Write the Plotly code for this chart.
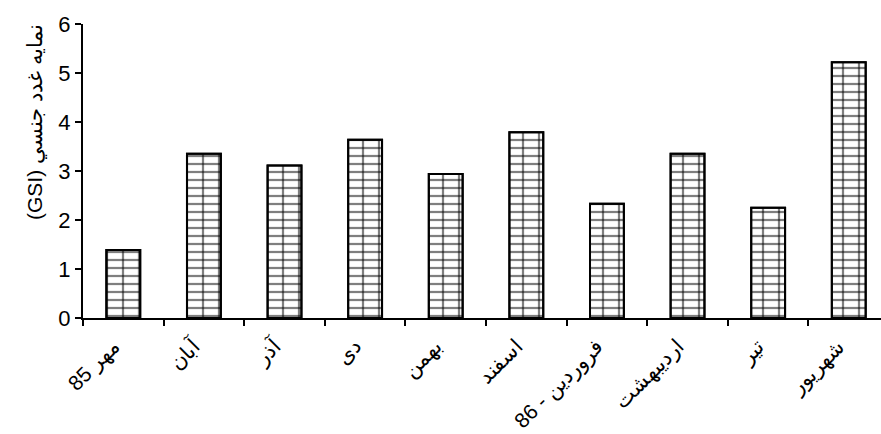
import plotly.graph_objects as go

# Monthly gonadosomatic index (GSI)
months = ["85 مهر", "آبان", "آذر", "دی", "بهمن", "اسفند",
          "86 - فروردین", "اردیبهشت", "تیر", "شهریور"]
gsi = [1.39, 3.35, 3.11, 3.64, 2.94, 3.79, 2.33, 3.35, 2.25, 5.22]

y_ticks = [0, 1, 2, 3, 4, 5, 6]
y_title = "(GSI) نمایه غدد جنسي"

fig = go.Figure()
# brick-like fill: horizontal courses plus vertical joints, layered
fig.add_trace(go.Bar(
    x=months, y=gsi,
    marker=dict(
        color="white",
        line=dict(color="black", width=2),
        pattern=dict(shape="-", size=8, solidity=0.28,
                     fgcolor="black", bgcolor="white"),
    ),
    hoverinfo="skip",
))
fig.add_trace(go.Bar(
    x=months, y=gsi,
    marker=dict(
        color="rgba(0,0,0,0)",
        line=dict(color="black", width=2),
        pattern=dict(shape="|", size=16, solidity=0.14,
                     fgcolor="black", bgcolor="rgba(0,0,0,0)"),
    ),
))

fig.update_layout(
    width=881, height=434,
    margin=dict(l=83, r=0, t=24, b=116),
    paper_bgcolor="white",
    plot_bgcolor="white",
    barmode="overlay",
    bargap=0.58,
    showlegend=False,
    font=dict(family="Arial, Liberation Sans, sans-serif", color="black"),
    xaxis=dict(
        type="category",
        range=[-0.5, 9.4],
        showline=True, linecolor="black", linewidth=2,
        ticks="outside", ticklen=6, tickwidth=1.5, tickcolor="black",
        tickson="boundaries",
        tickangle=-45,
        ticklabelshift=-10,
        ticklabelstandoff=6,
        tickfont=dict(size=21),
        showgrid=False,
    ),
    yaxis=dict(
        range=[0, 6],
        tickvals=y_ticks,
        ticksuffix="\u00a0\u00a0\u00a0\u2009",
        showline=True, linecolor="black", linewidth=2,
        ticks="outside", ticklen=6, tickwidth=1.5, tickcolor="black",
        tickfont=dict(size=22),
        showgrid=False, zeroline=False,
    ),
    annotations=[dict(
        text=y_title, textangle=-90,
        xref="paper", yref="paper",
        x=-0.06, y=0.667,
        xanchor="center", yanchor="middle",
        showarrow=False,
        font=dict(size=21),
    )],
)

fig.write_html("out.html")
